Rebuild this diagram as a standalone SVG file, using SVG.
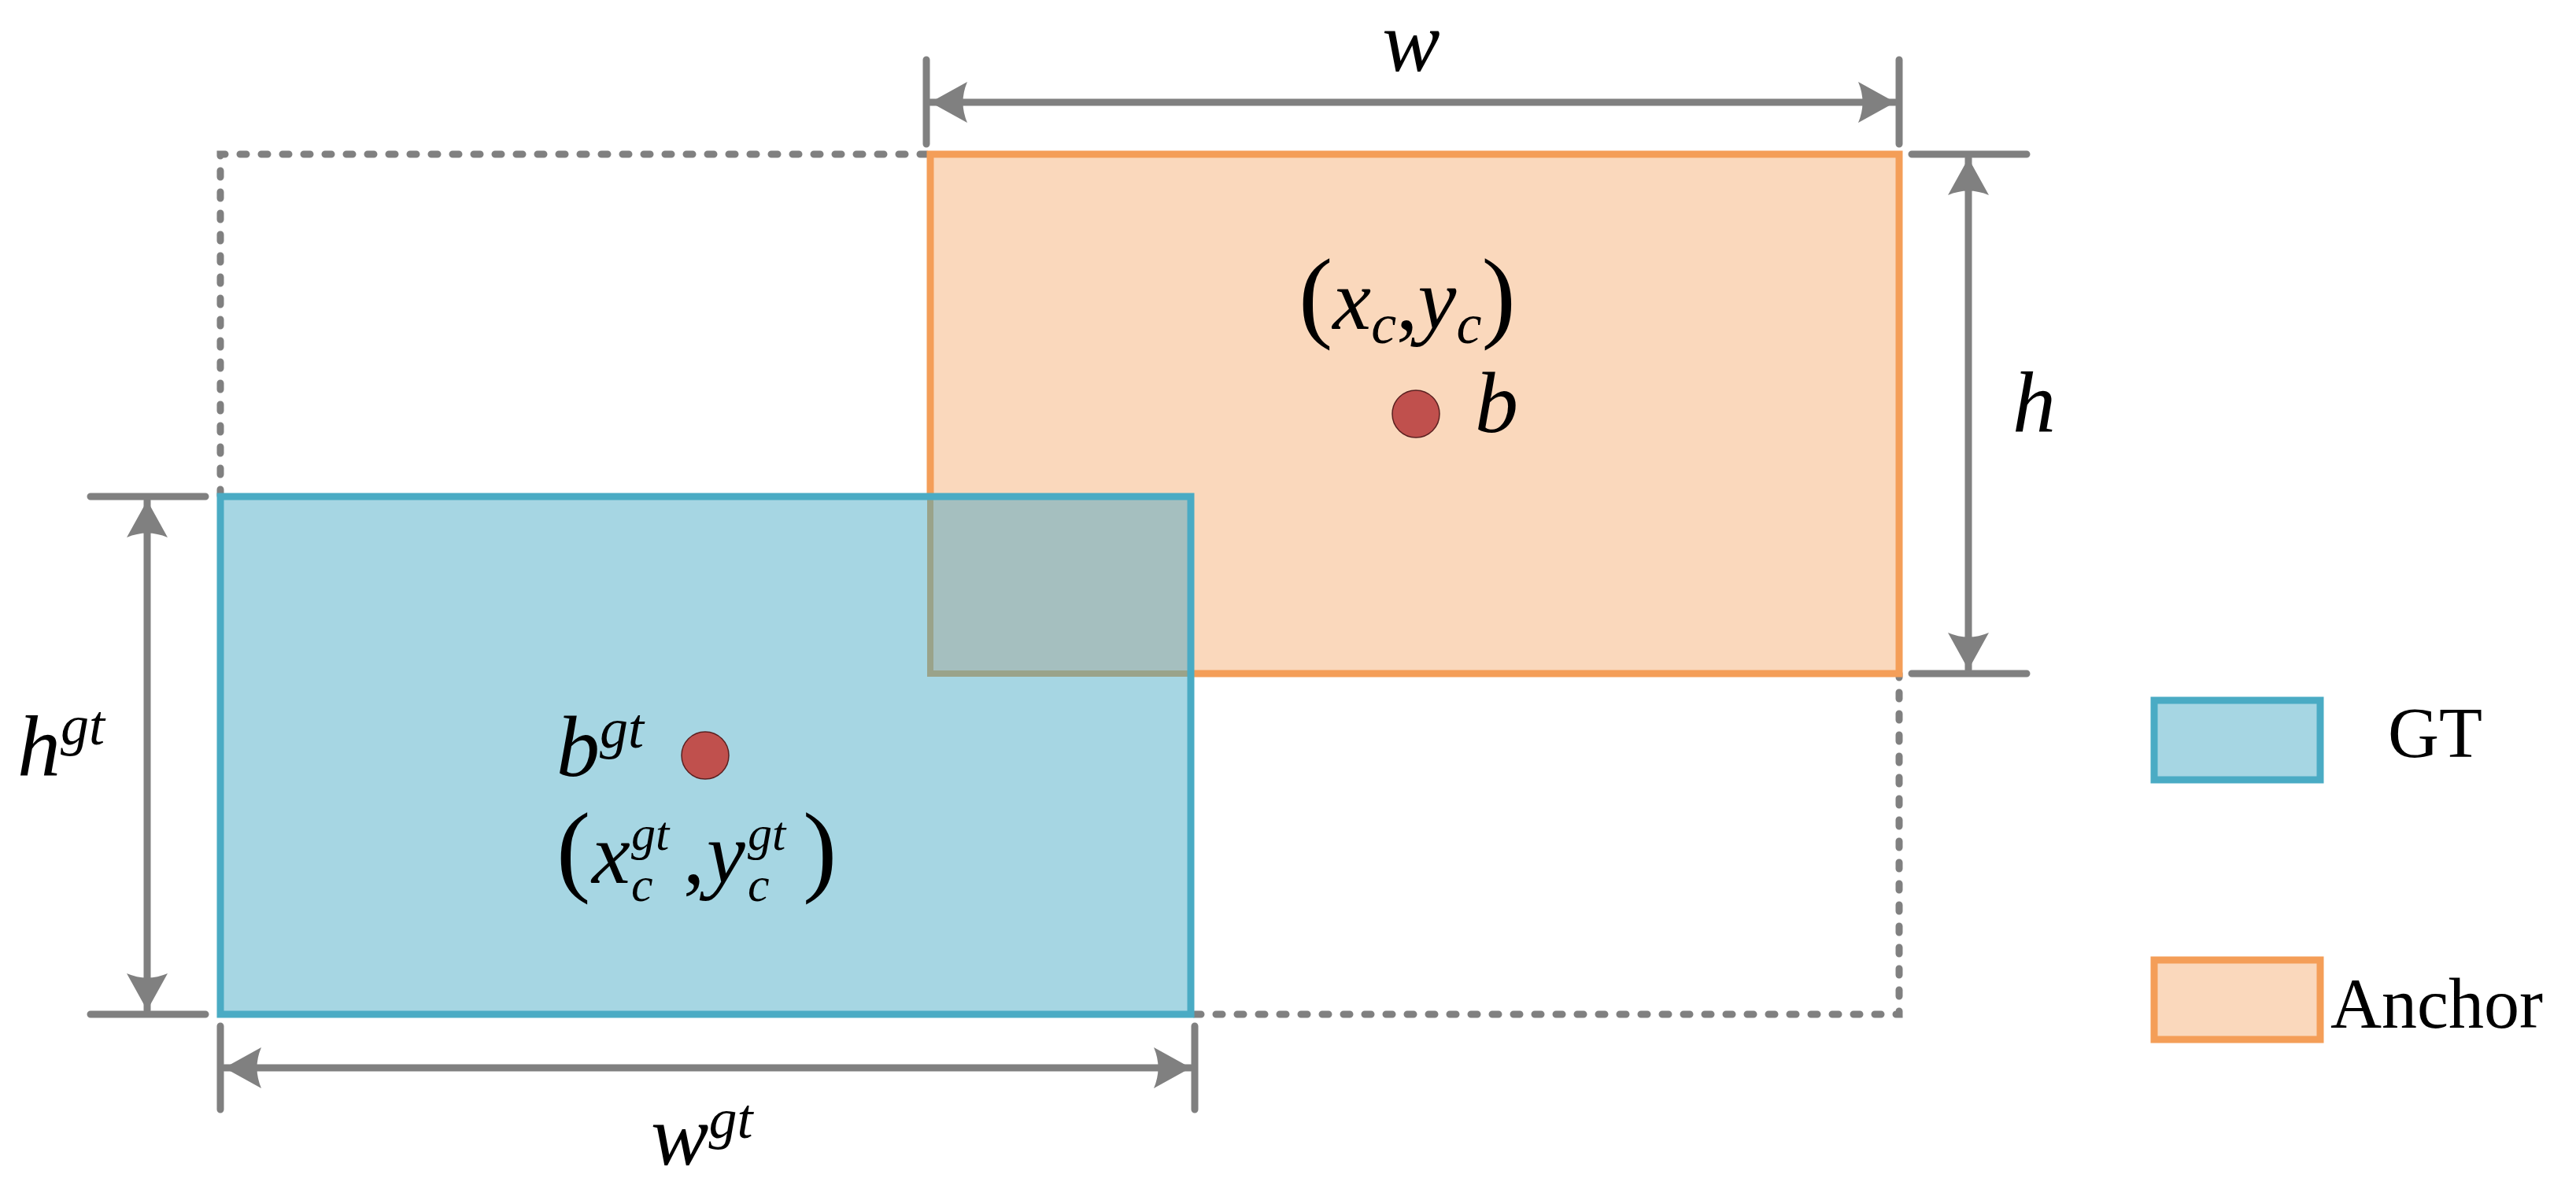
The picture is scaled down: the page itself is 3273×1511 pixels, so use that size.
<svg xmlns="http://www.w3.org/2000/svg" width="3273" height="1511" viewBox="0 0 3273 1511">
<style>
.t{font-family:"Liberation Serif","Times New Roman",serif;fill:#000}
.i{font-style:italic}
.dim{stroke:#808080;stroke-width:9;fill:none;stroke-linecap:round}
.dot{stroke:#808080;stroke-width:9;fill:none;stroke-linecap:round;stroke-dasharray:8 19}
</style>
<defs>
<marker id="ah" markerUnits="userSpaceOnUse" markerWidth="60" markerHeight="60" viewBox="-50 -30 55 60" refX="0" refY="0" orient="auto-start-reverse">
<path d="M0,0 L-47,-26 Q-36,0 -47,26 Z" fill="#808080"/>
</marker>
</defs>
<rect width="3273" height="1511" fill="#fff"/>
<g id="bounding">
<path class="dot" d="M1177,196 H280 V631 M1518,1289 H2413 V856"/>
</g>
<g id="anchor">
<rect x="1182" y="196" width="1231" height="660" fill="#FAD8BC" stroke="#F49E58" stroke-width="9"/>
</g>
<g id="gt">
<rect x="280" y="631" width="1233" height="658" fill="#A6D6E3"/>
<rect x="1182" y="631" width="331" height="225" fill="#A5BFBF"/>
<path d="M1182,631 V856 H1513" fill="none" stroke="#9AA38A" stroke-width="8"/>
<rect x="280" y="631" width="1233" height="658" fill="none" stroke="#4AABC4" stroke-width="9"/>
</g>
<g id="connectors">
<path class="dim" d="M1177,76 V183 M2413,76 V183 M2429,196 H2575 M2429,856 H2575 M115,631 H261 M115,1289 H261 M280,1304 V1410 M1518,1304 V1410"/>
<line class="dim" x1="1182" y1="130" x2="2408" y2="130" marker-start="url(#ah)" marker-end="url(#ah)"/>
<line class="dim" stroke-width="7" x1="2501" y1="201" x2="2501" y2="851" marker-start="url(#ah)" marker-end="url(#ah)"/>
<line class="dim" stroke-width="7" x1="187" y1="636" x2="187" y2="1284" marker-start="url(#ah)" marker-end="url(#ah)"/>
<line class="dim" x1="285" y1="1357" x2="1513" y2="1357" marker-start="url(#ah)" marker-end="url(#ah)"/>
</g>
<g id="points">
<circle cx="1799" cy="526" r="30" fill="#C0504D" stroke="#5a2020" stroke-width="1.5"/>
<circle cx="896" cy="960" r="30" fill="#C0504D" stroke="#5a2020" stroke-width="1.5"/>
</g>
<g id="labels">
<text class="t i" x="1793" y="90" font-size="110" text-anchor="middle">w</text>
<text class="t" x="1650" y="418" font-size="110"><tspan font-size="130">(</tspan><tspan class="i">x</tspan><tspan class="i" font-size="72" dy="18">c</tspan><tspan dy="-18">,</tspan><tspan class="i">y</tspan><tspan class="i" font-size="72" dy="18">c</tspan><tspan font-size="130" dy="-18">)</tspan></text>
<text class="t i" x="1874" y="549" font-size="110">b</text>
<text class="t i" x="2557" y="549" font-size="110">h</text>
<text class="t" x="22" y="986" font-size="110"><tspan class="i">h</tspan><tspan class="i" font-size="72" dy="-40">gt</tspan></text>
<text class="t" x="707" y="986" font-size="110"><tspan class="i">b</tspan><tspan class="i" font-size="72" dy="-36">gt</tspan></text>
<text class="t" x="707" y="1122" font-size="130">(</text>
<text class="t i" x="752" y="1122" font-size="110">x</text>
<text class="t i" x="802" y="1080" font-size="62">gt</text>
<text class="t i" x="802" y="1145" font-size="62">c</text>
<text class="t" x="868" y="1122" font-size="110">,</text>
<text class="t i" x="898" y="1122" font-size="110">y</text>
<text class="t i" x="950" y="1080" font-size="62">gt</text>
<text class="t i" x="950" y="1145" font-size="62">c</text>
<text class="t" x="1020" y="1122" font-size="130">)</text>
<text class="t" x="827" y="1480" font-size="110"><tspan class="i">w</tspan><tspan class="i" font-size="72" dy="-34">gt</tspan></text>
</g>
<g id="legend-gt">
<rect x="2737" y="890" width="211" height="101" fill="#A6D6E3" stroke="#4AABC4" stroke-width="9"/>
<text class="t" x="3034" y="962" font-size="90">GT</text>
</g>
<g id="legend-anchor">
<rect x="2737" y="1220" width="211" height="101" fill="#FAD8BC" stroke="#F49E58" stroke-width="9"/>
<text class="t" x="2961" y="1306" font-size="90">Anchor</text>
</g>
</svg>
